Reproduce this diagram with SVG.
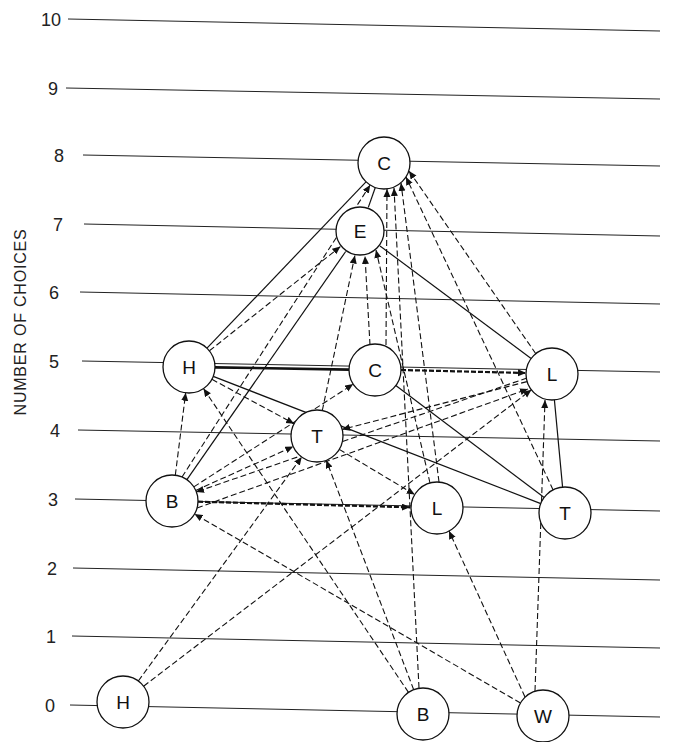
<svg xmlns="http://www.w3.org/2000/svg" width="675" height="742" viewBox="0 0 675 742">
<style>
.grid{stroke:#222;stroke-width:1;fill:none}
.lab{font-family:"Liberation Sans","DejaVu Sans",sans-serif;font-size:18px;fill:#222;text-anchor:middle}
.axis{font-family:"Liberation Sans","DejaVu Sans",sans-serif;font-size:16px;fill:#222;text-anchor:middle;letter-spacing:0.8px}
.s{stroke:#111;stroke-width:1.2;fill:none}
.thick{stroke:#111;stroke-width:2.6;fill:none}
.d{stroke:#111;stroke-width:1.1;stroke-dasharray:6,3;fill:none;marker-end:url(#ah)}
.dh{stroke:#111;stroke-width:2.2;stroke-dasharray:5,2;fill:none;marker-end:url(#ah)}
.node circle{fill:#fff;stroke:#111;stroke-width:1.3}
.node text{font-family:"Liberation Sans","DejaVu Sans",sans-serif;font-size:19px;fill:#111;text-anchor:middle;dominant-baseline:central}
</style>
<defs>
<marker id="ah" markerUnits="userSpaceOnUse" markerWidth="9" markerHeight="8" refX="8" refY="3.5" orient="auto">
<path d="M0,0 L8,3.5 L0,7 Z" fill="#111"/>
</marker>
</defs>
<rect width="675" height="742" fill="#fff"/>
<g id="grid">
<line class="grid" x1="68" y1="19" x2="660" y2="31"/>
<line class="grid" x1="66" y1="88" x2="660" y2="99"/>
<line class="grid" x1="83" y1="155" x2="660" y2="166"/>
<line class="grid" x1="84" y1="224" x2="660" y2="236"/>
<line class="grid" x1="80" y1="292" x2="660" y2="304"/>
<line class="grid" x1="82" y1="361" x2="660" y2="372"/>
<line class="grid" x1="78" y1="430" x2="660" y2="441"/>
<line class="grid" x1="75" y1="499" x2="660" y2="511"/>
<line class="grid" x1="73" y1="568" x2="660" y2="580"/>
<line class="grid" x1="72" y1="636" x2="660" y2="648"/>
<line class="grid" x1="70" y1="705" x2="660" y2="717"/>
</g>
<g id="labels">
<text class="lab" x="51" y="26">10</text>
<text class="lab" x="53" y="95">9</text>
<text class="lab" x="59" y="162">8</text>
<text class="lab" x="58" y="231">7</text>
<text class="lab" x="54" y="299">6</text>
<text class="lab" x="54" y="368">5</text>
<text class="lab" x="55" y="437">4</text>
<text class="lab" x="53" y="506">3</text>
<text class="lab" x="52" y="575">2</text>
<text class="lab" x="51" y="643">1</text>
<text class="lab" x="50" y="712">0</text>
<text class="axis" transform="translate(26,322) rotate(-90)">NUMBER OF CHOICES</text>
</g>
<g id="connectors">
<line class="s" x1="375.3" y1="187.5" x2="368.3" y2="207.4"/>
<line class="s" x1="207" y1="348.2" x2="366" y2="181.8"/>
<line class="s" x1="345.7" y1="251.5" x2="186.9" y2="479.7"/>
<line class="s" x1="380" y1="245.9" x2="531.1" y2="358.5"/>
<line class="thick" x1="215" y1="367.4" x2="349" y2="369.6"/>
<line class="s" x1="213.2" y1="376.4" x2="540.8" y2="503.6"/>
<line class="s" x1="395.8" y1="385.6" x2="544.2" y2="497.4"/>
<line class="s" x1="554.4" y1="399.9" x2="562.6" y2="487.1"/>
<line class="d" x1="175.3" y1="475.2" x2="185.7" y2="392.8"/>
<line class="d" x1="182" y1="477" x2="370.2" y2="185"/>
<line class="d" x1="193.8" y1="486.9" x2="353.2" y2="384.1"/>
<line class="d" x1="195.7" y1="490.4" x2="293.3" y2="446.6"/>
<line class="dh" x1="198" y1="501.7" x2="410" y2="507.3"/>
<line class="d" x1="197" y1="508" x2="528" y2="389"/>
<line class="d" x1="527" y1="378" x2="196" y2="492"/>
<line class="d" x1="209.4" y1="350.8" x2="340.4" y2="246.6"/>
<line class="d" x1="211.9" y1="379.3" x2="294.1" y2="423.7"/>
<line class="d" x1="322.3" y1="410.5" x2="354.9" y2="255.5"/>
<line class="d" x1="339.3" y1="449.4" x2="414.7" y2="494.6"/>
<line class="d" x1="526.9" y1="381.6" x2="342.1" y2="429.4"/>
<line class="d" x1="535.8" y1="353.7" x2="409" y2="171"/>
<line class="d" x1="553.1" y1="489.9" x2="406" y2="177"/>
<line class="d" x1="386" y1="345" x2="387" y2="189"/>
<line class="d" x1="370" y1="345" x2="365" y2="256"/>
<line class="dh" x1="401" y1="370" x2="526" y2="373"/>
<line class="d" x1="439" y1="482" x2="401" y2="183"/>
<line class="d" x1="430" y1="483" x2="376" y2="250"/>
<line class="d" x1="419" y1="688" x2="394" y2="188"/>
<line class="d" x1="408.5" y1="692.4" x2="203.5" y2="388.6"/>
<line class="d" x1="413.7" y1="689.7" x2="326.3" y2="460.3"/>
<line class="d" x1="535" y1="691" x2="545" y2="400"/>
<line class="d" x1="525" y1="697" x2="449" y2="531"/>
<line class="d" x1="520.5" y1="703" x2="194.5" y2="514"/>
<line class="d" x1="138.3" y1="681" x2="301.7" y2="457"/>
<line class="d" x1="143.6" y1="686.2" x2="531.4" y2="389.8"/>
</g>
<g id="node-C8" class="node"><circle cx="384" cy="163" r="26"/><text x="384" y="163">C</text></g>
<g id="node-E7" class="node"><circle cx="360" cy="231" r="24"/><text x="360" y="231">E</text></g>
<g id="node-H5" class="node"><circle cx="189" cy="367" r="26"/><text x="189" y="367">H</text></g>
<g id="node-C5" class="node"><circle cx="375" cy="370" r="26"/><text x="375" y="370">C</text></g>
<g id="node-L5" class="node"><circle cx="552" cy="374" r="26"/><text x="552" y="374">L</text></g>
<g id="node-T4" class="node"><circle cx="317" cy="436" r="26"/><text x="317" y="436">T</text></g>
<g id="node-B3" class="node"><circle cx="172" cy="501" r="26"/><text x="172" y="501">B</text></g>
<g id="node-L3" class="node"><circle cx="437" cy="508" r="26"/><text x="437" y="508">L</text></g>
<g id="node-T3" class="node"><circle cx="565" cy="513" r="26"/><text x="565" y="513">T</text></g>
<g id="node-H0" class="node"><circle cx="123" cy="702" r="26"/><text x="123" y="702">H</text></g>
<g id="node-B0" class="node"><circle cx="423" cy="714" r="26"/><text x="423" y="714">B</text></g>
<g id="node-W0" class="node"><circle cx="543" cy="716" r="26"/><text x="543" y="716">W</text></g>
</svg>
